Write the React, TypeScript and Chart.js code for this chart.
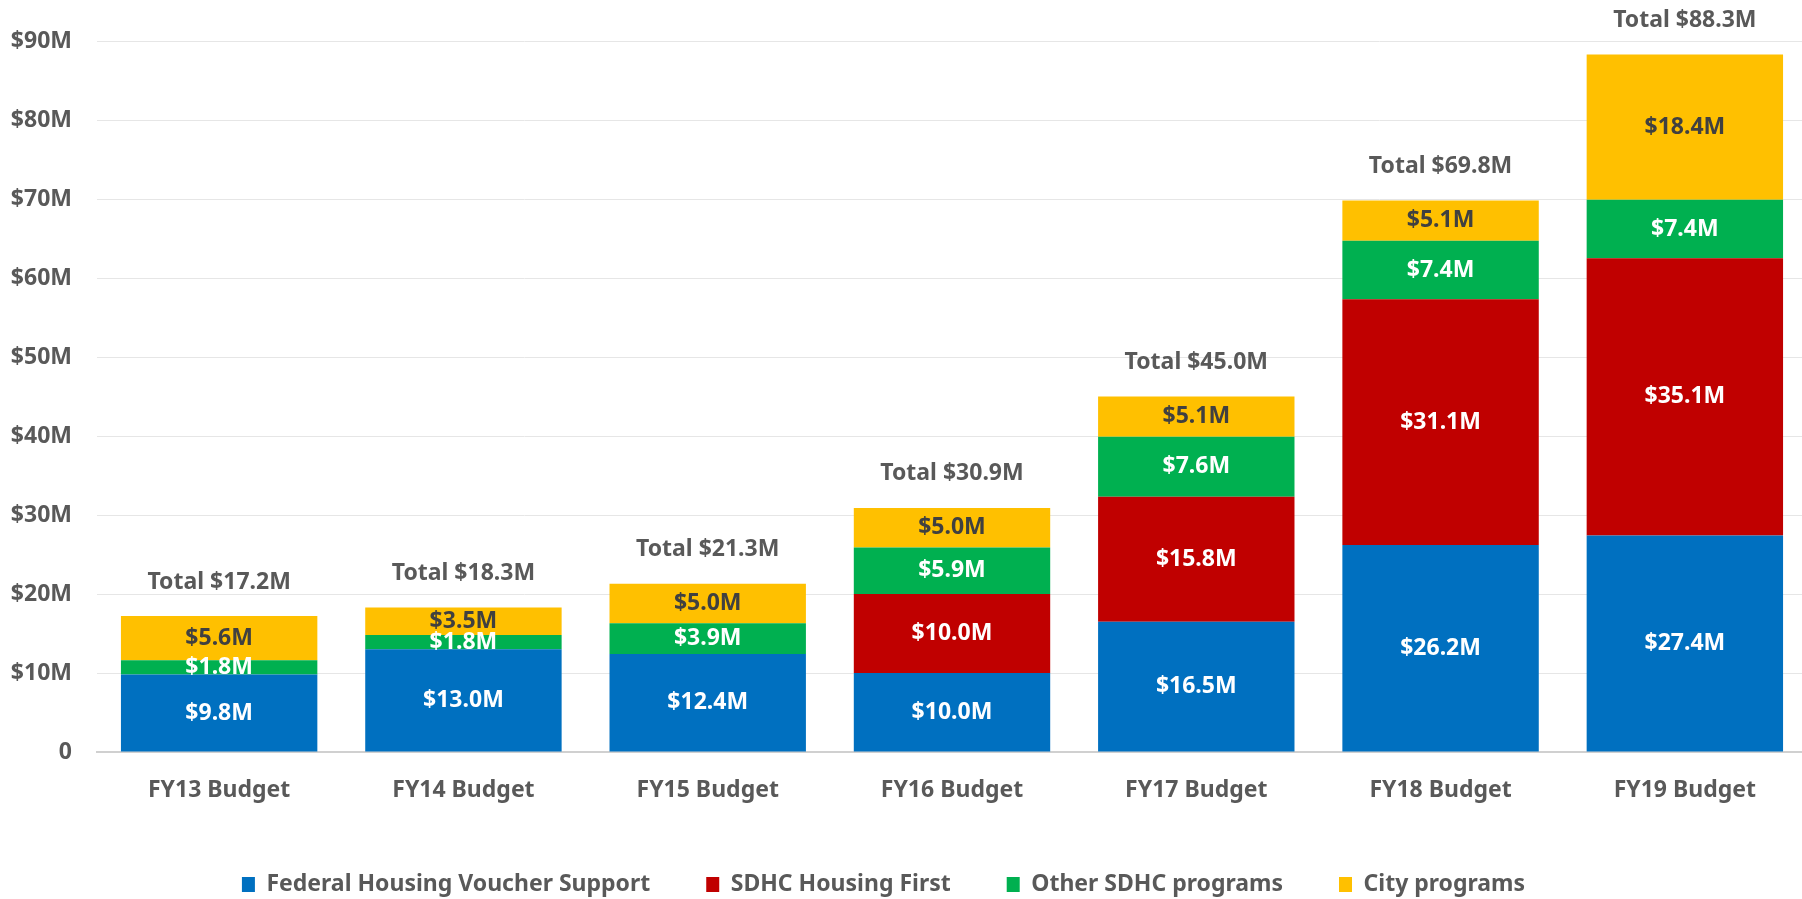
import React, { useEffect, useRef } from 'react';
import { Chart, registerables } from 'chart.js';

Chart.register(...registerables);

const FONT = '"Noto Sans", "Open Sans", sans-serif';

const categories = ['FY13 Budget', 'FY14 Budget', 'FY15 Budget', 'FY16 Budget', 'FY17 Budget', 'FY18 Budget', 'FY19 Budget'];
const federalVoucher = [9.8, 13.0, 12.4, 10.0, 16.5, 26.2, 27.4];
const housingFirst = [0, 0, 0, 10.0, 15.8, 31.1, 35.1];
const otherSdhc = [1.8, 1.8, 3.9, 5.9, 7.6, 7.4, 7.4];
const cityPrograms = [5.6, 3.5, 5.0, 5.0, 5.1, 5.1, 18.4];
const totals = [17.2, 18.3, 21.3, 30.9, 45.0, 69.8, 88.3];
const seriesNames = ['Federal Housing Voucher Support', 'SDHC Housing First', 'Other SDHC programs', 'City programs'];
const yTickLabels = ['0', '$10M', '$20M', '$30M', '$40M', '$50M', '$60M', '$70M', '$80M', '$90M'];

const seriesColors = ['#0070C0', '#C00000', '#00B050', '#FFC000'];
const labelColors = ['#FFFFFF', '#FFFFFF', '#FFFFFF', '#404040'];
const TEXT = '#595959';
const GRID = '#E6E6E6';
const AXIS = '#D0D0D0';
const FS = 23;

const segmentLabels = {
  id: 'segmentLabels',
  afterDatasetsDraw(chart: any) {
    const ctx = chart.ctx;
    ctx.save();
    ctx.font = `bold ${FS}px ${FONT}`;
    ctx.textAlign = 'center';
    ctx.textBaseline = 'middle';
    chart.data.datasets.forEach((ds: any, i: number) => {
      const meta = chart.getDatasetMeta(i);
      meta.data.forEach((el: any, j: number) => {
        const v = ds.data[j];
        if (!v) return;
        const p = el.getProps(['x', 'y', 'base'], true);
        ctx.fillStyle = labelColors[i];
        ctx.fillText(`$${v.toFixed(1)}M`, p.x, (p.y + p.base) / 2);
      });
    });
    const xs = chart.scales.x;
    const ys = chart.scales.y;
    ctx.fillStyle = TEXT;
    totals.forEach((t, j) => {
      ctx.fillText(`Total $${t.toFixed(1)}M`, xs.getPixelForValue(j), ys.getPixelForValue(t) - 34);
    });
    ctx.restore();
  },
};

export default function App() {
  const ref = useRef<HTMLCanvasElement | null>(null);

  useEffect(() => {
    if (!ref.current) return;
    const seriesData = [federalVoucher, housingFirst, otherSdhc, cityPrograms];
    const chart = new Chart(ref.current, {
      type: 'bar',
      data: {
        labels: categories,
        datasets: seriesData.map((d, i) => ({
          label: seriesNames[i],
          data: d,
          backgroundColor: seriesColors[i],
          borderWidth: 0,
          barPercentage: 0.804,
          categoryPercentage: 1.0,
        })),
      },
      options: {
        animation: false,
        responsive: false,
        maintainAspectRatio: false,
        devicePixelRatio: 1,
        layout: { padding: { top: 41, left: 0, right: 0, bottom: 0 } },
        plugins: {
          tooltip: { enabled: false },
          legend: {
            position: 'bottom',
            labels: {
              color: TEXT,
              font: { family: FONT, size: FS, weight: 'bold' },
              boxWidth: 13,
              boxHeight: 15,
              padding: 56,
            },
          },
        },
        scales: {
          x: {
            stacked: true,
            grid: { display: false, drawTicks: false },
            border: { display: true, color: AXIS, width: 2 },
            ticks: {
              color: TEXT,
              font: { family: FONT, size: FS, weight: 'bold' },
              padding: 25,
            },
            afterFit: (s: any) => {
              s.height = 65;
            },
          },
          y: {
            stacked: true,
            min: 0,
            max: 90,
            grid: { color: GRID, lineWidth: 1, drawTicks: false },
            border: { display: false },
            ticks: {
              stepSize: 10,
              color: TEXT,
              font: { family: FONT, size: FS, weight: 'bold' },
              padding: 25,
              callback: (_v: any, idx: number) => yTickLabels[idx],
            },
            afterFit: (s: any) => {
              s.width = 137;
            },
          },
        },
      },
      plugins: [segmentLabels],
    });
    return () => chart.destroy();
  }, []);

  return (
    <div style={{ position: 'absolute', left: 0, top: 0, width: 1802, height: 899, overflow: 'hidden', background: '#fff' }}>
      <canvas
        ref={ref}
        width={1847}
        height={906}
        style={{ width: 1847, height: 906, display: 'block', marginLeft: -40 }}
      />
    </div>
  );
}
